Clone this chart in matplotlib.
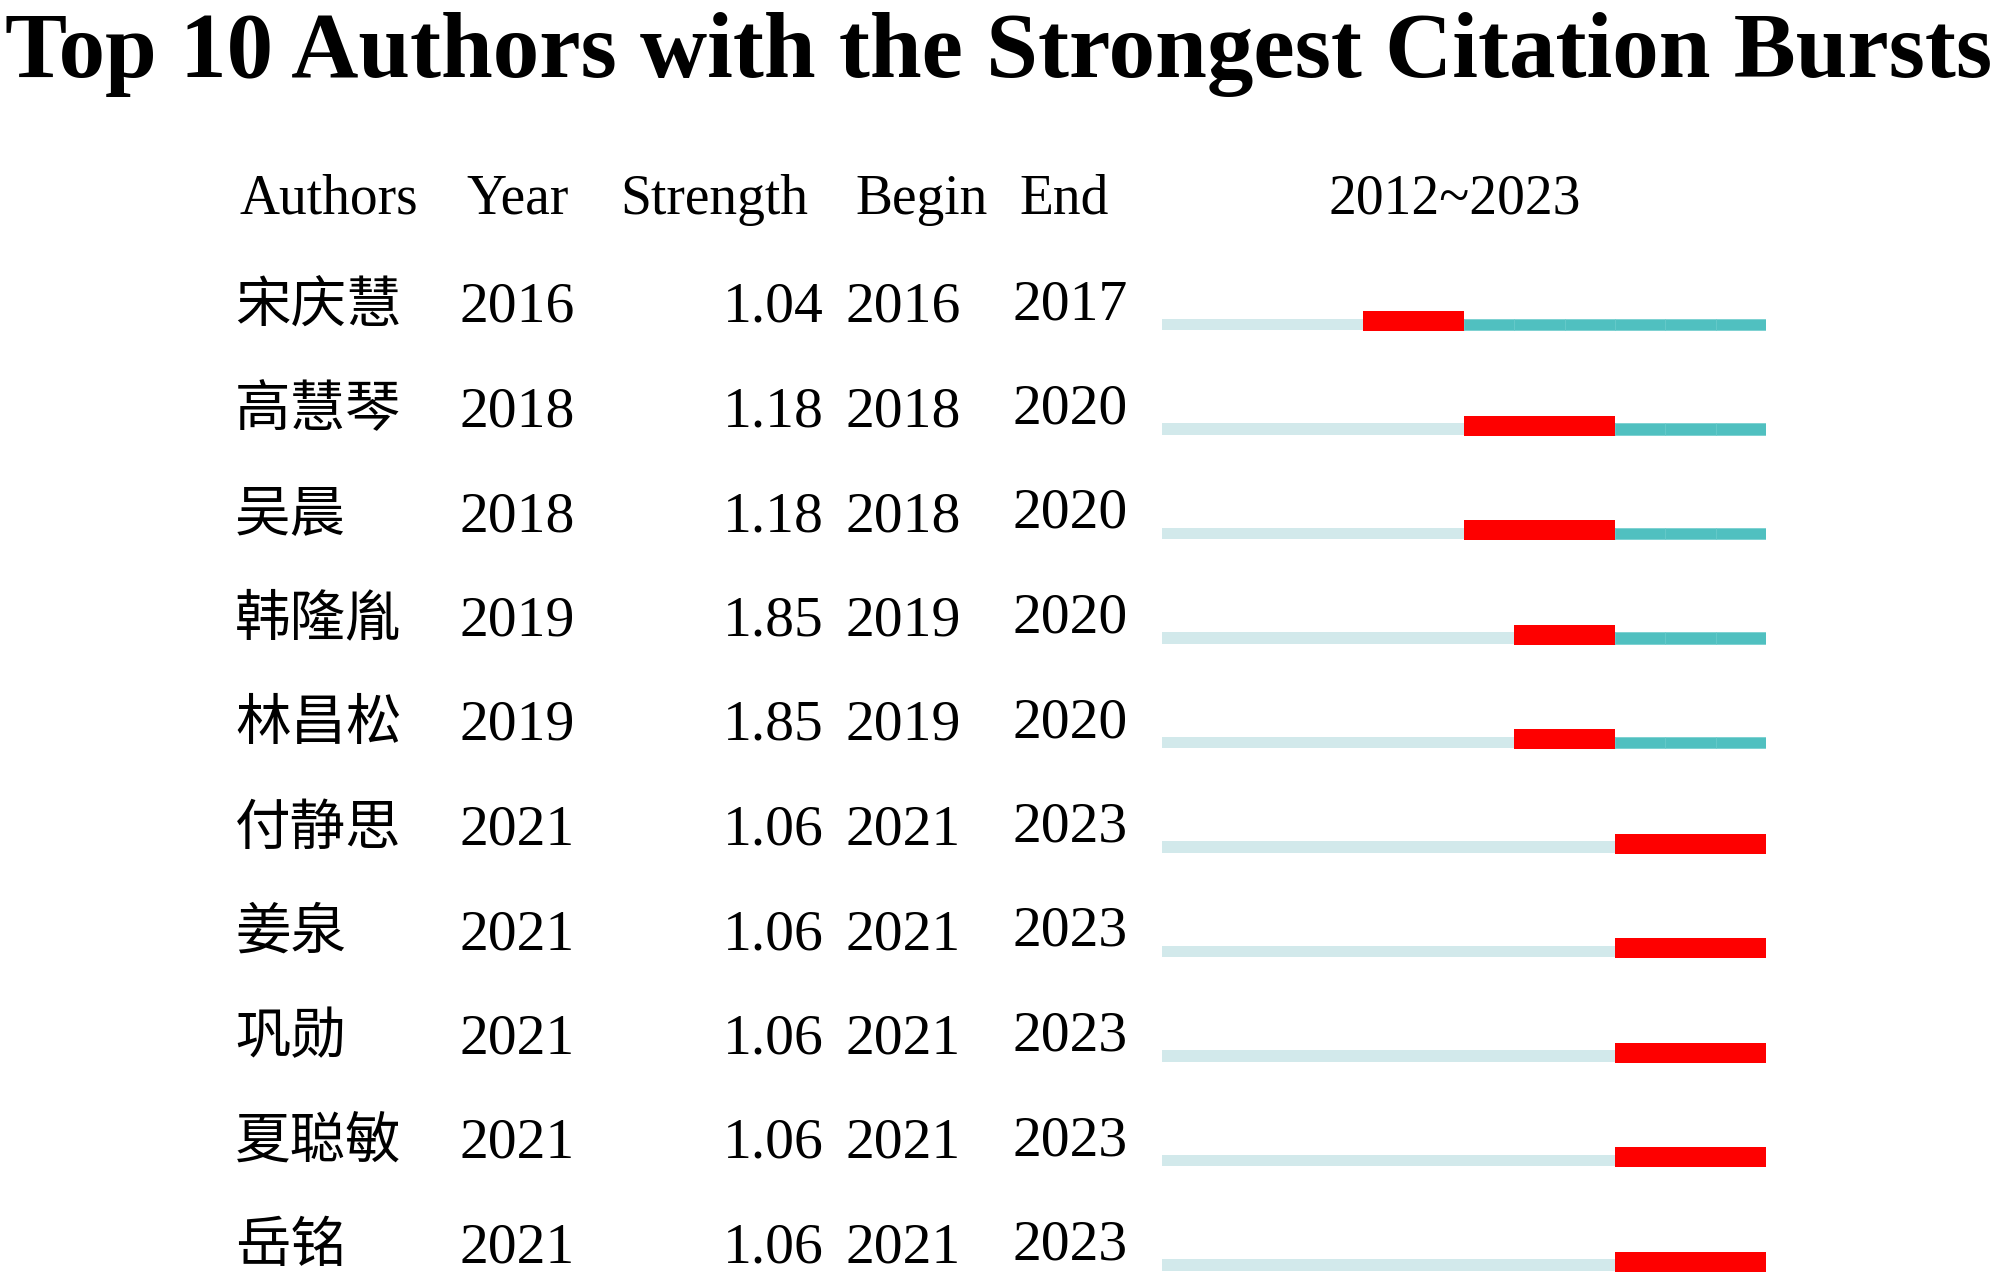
import matplotlib
matplotlib.use('Agg')
import matplotlib.pyplot as plt

# data
authors = ['宋庆慧', '高慧琴', '吴晨', '韩隆胤', '林昌松', '付静思', '姜泉', '巩勋', '夏聪敏', '岳铭']
years = [2016, 2018, 2018, 2019, 2019, 2021, 2021, 2021, 2021, 2021]
strength = [1.04, 1.18, 1.18, 1.85, 1.85, 1.06, 1.06, 1.06, 1.06, 1.06]
begin = [2016, 2018, 2018, 2019, 2019, 2021, 2021, 2021, 2021, 2021]
end = [2017, 2020, 2020, 2020, 2020, 2023, 2023, 2023, 2023, 2023]
first_year, last_year = 2012, 2023
headers = ['Authors', 'Year', 'Strength', 'Begin', 'End']

W, H = 2000, 1282
fig = plt.figure(figsize=(W / 100, H / 100), dpi=100)
fig.patch.set_facecolor('white')

serif = 'Liberation Serif'
cjk = ['Noto Sans CJK SC', 'DejaVu Sans']

def fx(px):
    return px / W

def fy(py):
    return 1 - py / H

# title, stretched to the full width
t = fig.text(fx(5), fy(77), 'Top 10 Authors with the Strongest Citation Bursts',
             family=serif, fontweight='bold', fontsize=66, va='baseline', ha='left')
fig.canvas.draw()
w = t.get_window_extent().width
t.set_fontsize(66 * 1988 / w)

# header row
head_y = 214
head_x = [239, 466, 620, 855, 1019]
for x, h in zip(head_x, headers):
    fig.text(fx(x), fy(head_y), h, family=serif, fontsize=40, va='baseline', ha='left')
fig.text(fx(1455), fy(head_y), '%d~%d' % (first_year, last_year), family=serif,
         fontsize=40, va='baseline', ha='center')

# table rows
row0 = 322
step = 104.5
num = dict(family=serif, fontsize=41.5, va='baseline')
for i in range(len(authors)):
    yb = row0 + step * i
    fig.text(fx(235), fy(yb), authors[i], family=cjk, fontsize=40, va='baseline', ha='left')
    fig.text(fx(460), fy(yb), str(years[i]), ha='left', **num)
    fig.text(fx(824), fy(yb), '%.2f' % strength[i], ha='right', **num)
    fig.text(fx(846), fy(yb), str(begin[i]), ha='left', **num)
    fig.text(fx(1013), fy(yb - 3), str(end[i]), ha='left', **num)

# burst bars on their own axes: x in years, y in rows
bx0, bx1 = 1162, 1766
top_px = row0 + 2.5 - step / 2
ax = fig.add_axes([fx(bx0), 0, (bx1 - bx0) / W, (H - top_px) / H])
ax.set_xlim(first_year, last_year + 1)
ax.set_ylim(-0.5 + (H - top_px) / step, -0.5)
ax.axis('off')

light = '#d2e9eb'
teal = '#50c0c0'
red = '#fe0000'
thin = 11.5 / step
thick = 20 / step
for i in range(len(authors)):
    ax.barh(i, years[i] - first_year, left=first_year, height=thin, color=light, linewidth=0)
    for yr in range(years[i], last_year + 1):
        ax.barh(i, 1, left=yr, height=thin, color=teal, edgecolor='#62c8c8', linewidth=0.4)
    ax.barh(i - 3.5 / step, end[i] + 1 - begin[i], left=begin[i], height=thick,
            color=red, linewidth=0)

fig.savefig('out.png', dpi=100, facecolor='white')
